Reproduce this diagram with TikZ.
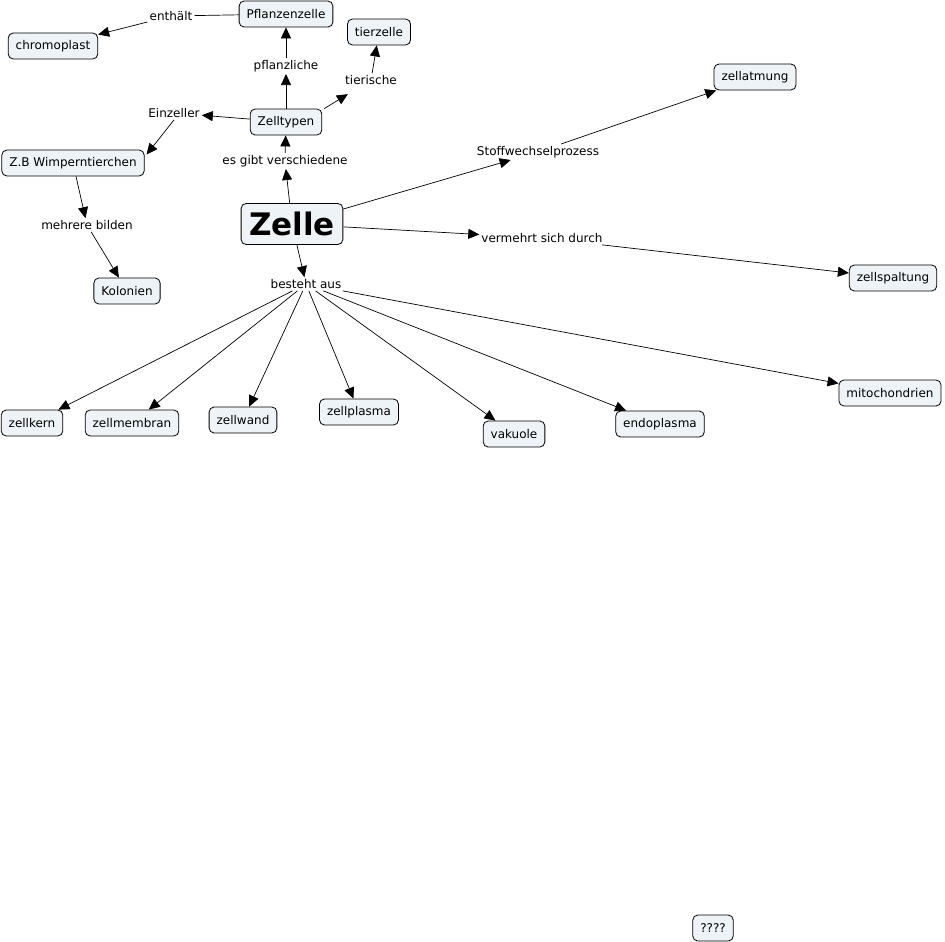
\documentclass[tikz,border=0pt]{standalone}
\usepackage{fontspec}
\setmainfont{DejaVu Sans}
\usetikzlibrary{arrows.meta}
\definecolor{cfill}{RGB}{237,243,246}
\begin{document}
\begin{tikzpicture}[x=1pt,y=-1pt,
 concept/.style={draw=black, fill=cfill, rounded corners=5pt, font=\fontsize{12}{14}\selectfont, inner xsep=7.5pt, inner ysep=0pt, minimum height=26pt, line width=0.8pt},
 phrase/.style={font=\fontsize{12}{14}\selectfont, inner sep=2pt},
 link/.style={line width=0.7pt, -{Triangle[length=11pt,width=10pt]}},
 plain/.style={line width=0.7pt}]
\useasboundingbox (0,0) rectangle (945,942);
% concepts
\node[concept] (pfl) at (286,14) {Pflanzenzelle};
\node[concept] (chr) at (53,46) {chromoplast};
\node[concept] (tie) at (379,32) {tierzelle};
\node[concept] (atm) at (755,77) {zellatmung};
\node[concept] (typ) at (286,122) {Zelltypen};
\node[concept] (wim) at (73,163) {Z.B Wimperntierchen};
\node[concept, font=\fontsize{31}{34}\selectfont\bfseries, minimum height=41pt, inner xsep=8pt] (zel) at (292,224) {Zelle};
\node[concept] (spa) at (893,278) {zellspaltung};
\node[concept] (kol) at (127,291) {Kolonien};
\node[concept] (ker) at (32,423) {zellkern};
\node[concept] (mem) at (132,423) {zellmembran};
\node[concept] (wan) at (243,420) {zellwand};
\node[concept] (pla) at (359,412) {zellplasma};
\node[concept] (vak) at (514,434) {vakuole};
\node[concept] (end) at (660,424) {endoplasma};
\node[concept] (mit) at (890,393) {mitochondrien};
\node[concept] (qqq) at (713,928) {????};
% linking phrases
\node[phrase] (enth) at (171,16) {enthält};
\node[phrase] (pflz) at (286,66) {pflanzliche};
\node[phrase] (tier) at (371,80) {tierische};
\node[phrase] (einz) at (174,113) {Einzeller};
\node[phrase] (esgi) at (285,161) {es gibt verschiedene};
\node[phrase] (stof) at (538,152) {Stoffwechselprozess};
\node[phrase] (mehr) at (87,225) {mehrere bilden};
\node[phrase] (verm) at (542,238) {vermehrt sich durch};
\node[phrase] (best) at (306,284) {besteht aus};
% connectors
\draw[plain] (pfl) -- (enth);
\draw[link] (enth) -- (chr);
\draw[link] (typ) -- (pflz);
\draw[link] (pflz) -- (pfl);
\draw[link, shorten >=14pt] ([xshift=2pt]typ.north east) -- (tier);
\draw[link] (tier) -- (tie);
\draw[link] (typ) -- (einz);
\draw[link] (einz.south) -- ([xshift=2pt,yshift=-5pt]wim.north east);
\draw[link] (wim) -- (mehr);
\draw[link] (mehr) -- (kol);
\draw[link] (zel) -- (esgi);
\draw[link] (esgi) -- (typ);
\draw[link] (zel) -- (stof);
\draw[link] (stof) -- (atm);
\draw[link] (zel) -- (verm);
\draw[link] (verm) -- (spa);
\draw[link] (zel) -- (best);
\draw[link] (best) -- (ker);
\draw[link] (best) -- (mem);
\draw[link] (best) -- (wan);
\draw[link] (best) -- (pla);
\draw[link] (best) -- (vak);
\draw[link] (best) -- (end);
\draw[link] (best) -- (mit);
\end{tikzpicture}
\end{document}
